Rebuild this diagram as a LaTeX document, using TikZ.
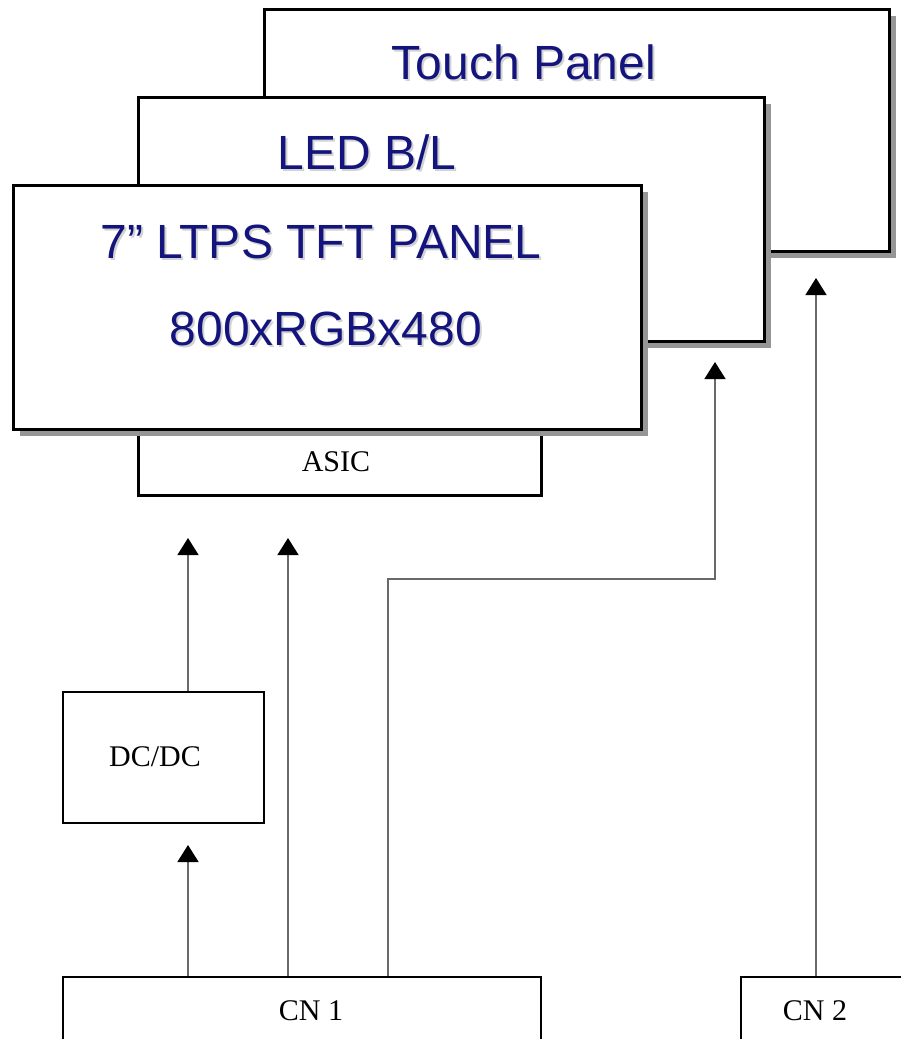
\documentclass[tikz,border=0pt]{standalone}
\usepackage{fontspec}
\setmainfont{Liberation Serif}
\newfontfamily\arialf{Liberation Sans}
\usetikzlibrary{arrows.meta,shadows}
\definecolor{navy}{RGB}{20,20,125}
\definecolor{shade}{RGB}{150,150,150}
\definecolor{linegray}{RGB}{105,105,105}
\begin{document}
\begin{tikzpicture}[x=1pt,y=-1pt,
  panel/.style={draw=black, line width=3pt, fill=white, anchor=north west, inner sep=0pt,
    drop shadow={shadow xshift=6pt, shadow yshift=-6pt, fill=shade, opacity=1}},
  plainbox/.style={draw=black, line width=1.5pt, fill=white, anchor=north west, inner sep=0pt},
  ptext/.style={font=\arialf\fontsize{48}{50}\selectfont, text=navy},
  ptextsh/.style={font=\arialf\fontsize{48}{50}\selectfont, text=gray!35},
  stext/.style={font=\fontsize{30}{32}\selectfont},
  arr/.style={draw=linegray, line width=1.5pt, -{Triangle[length=17pt,width=21pt,color=black]}}
]
\useasboundingbox (0,0) rectangle (901,1039);
\fill[white] (0,0) rectangle (901,1039);

% stacked panels
\node[panel, minimum width=625pt, minimum height=242pt] (tp) at (263,8) {};
\node[panel, minimum width=626pt, minimum height=244pt] (led) at (137,96) {};
\node[draw=black, line width=3pt, fill=white, anchor=north west, inner sep=0pt,
      minimum width=403pt, minimum height=80pt] (asic) at (137,414) {};
\node[panel, minimum width=628pt, minimum height=244pt] (tft) at (12,184) {};

% panel texts
\node[ptextsh] (tpS) at (526,64) {Touch Panel};
\node[ptext] (tpT) at (524,62) {Touch Panel};
\node[ptextsh] (ledS) at (369,154) {LED B/L};
\node[ptext] (ledT) at (367,152) {LED B/L};
\node[ptextsh] (tftS) at (323,244) {7” LTPS TFT PANEL};
\node[ptext] (tftT) at (321,242) {7” LTPS TFT PANEL};
\node[ptextsh] (resS) at (328,331) {800xRGBx480};
\node[ptext] (resT) at (326,329) {800xRGBx480};
\node[stext] (asicT) at (336,462) {ASIC};

% lower boxes
\node[plainbox, minimum width=201pt, minimum height=131pt] (dcdc) at (62,691) {};
\node[stext] (dcdcT) at (155,757) {DC/DC};
\node[plainbox, minimum width=478pt, minimum height=80pt] (cn1) at (62,976) {};
\node[stext] (cn1T) at (311,1011) {CN 1};
\node[plainbox, minimum width=170pt, minimum height=80pt] (cn2) at (740,976) {};
\node[stext] (cn2T) at (815,1011) {CN 2};

% arrow tips
\coordinate (t1) at (188,845);
\coordinate (t2) at (188,538);
\coordinate (t3) at (288,538);
\coordinate (bend) at (715,579);
\coordinate (t4) at (715,362);
\coordinate (t5) at (816,278);
\coordinate (s4) at (388,0);

\draw[arr] (cn1.north -| t1) -- (t1);
\draw[arr] (dcdc.north -| t2) -- (t2);
\draw[arr] (cn1.north -| t3) -- (t3);
\draw[arr] (cn1.north -| s4) |- (bend) -- (t4);
\draw[arr] (cn2.north -| t5) -- (t5);
\end{tikzpicture}
\end{document}
